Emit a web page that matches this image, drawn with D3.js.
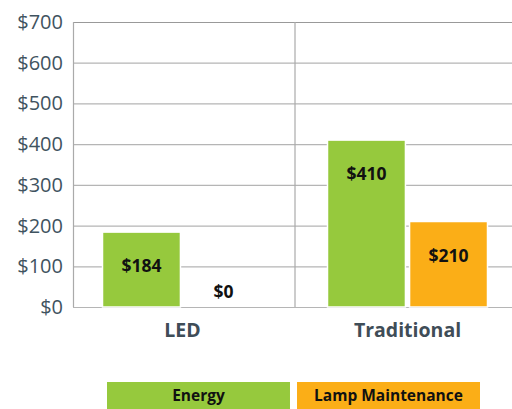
<!DOCTYPE html>
<html>
<head>
<meta charset="utf-8">
<script src="https://cdn.jsdelivr.net/npm/d3@7"></script>
<style>
  html, body { margin: 0; padding: 0; background: #fff; }
  svg { display: block; }
</style>
</head>
<body>
<script>
// chart data
const categories = ["LED", "Traditional"];
const seriesNames = ["Energy", "Lamp Maintenance"];
const energy = [184, 410];
const maintenance = [0, 210];
const yTicks = [0, 100, 200, 300, 400, 500, 600, 700];
const colors = ["#96c93d", "#fbae17"];

const width = 512, height = 409;
const plotLeft = 73, plotTop = 22, plotBottom = 307;

const svg = d3.select("body").append("svg")
  .attr("width", width)
  .attr("height", height);

const x = d3.scaleBand()
  .domain(categories)
  .range([70, 520]);

const xs = d3.scaleBand()
  .domain(seriesNames)
  .range([32.5, 192.5])
  .paddingInner(0.05);

const y = d3.scaleLinear()
  .domain([0, 700])
  .range([plotBottom, plotTop]);

// gridlines
svg.append("g")
  .selectAll("line")
  .data(yTicks)
  .join("line")
  .attr("x1", plotLeft)
  .attr("x2", width)
  .attr("y1", d => y(d) + 0.5)
  .attr("y2", d => y(d) + 0.5)
  .attr("stroke", d => d === 700 ? "#999" : "#b5b5b5")
  .attr("stroke-width", 1.2);

// left axis line + category divider
svg.append("line")
  .attr("x1", plotLeft + 0.5).attr("x2", plotLeft + 0.5)
  .attr("y1", y(700)).attr("y2", y(0))
  .attr("stroke", "#aaa").attr("stroke-width", 1.2);

svg.append("line")
  .attr("x1", x("Traditional")).attr("x2", x("Traditional"))
  .attr("y1", y(700)).attr("y2", y(0))
  .attr("stroke", "#aaa").attr("stroke-width", 1.2);

// y tick labels
svg.append("g")
  .selectAll("text")
  .data(yTicks)
  .join("text")
  .attr("x", plotLeft - 10)
  .attr("y", d => y(d) + 7)
  .attr("text-anchor", "end")
  .attr("font-family", "'Open Sans', sans-serif")
  .attr("font-size", 20)
  .attr("fill", "#3f5360")
  .text(d => "$" + d);

// bars
const rows = categories.map((c, i) => ({cat: c, vals: [energy[i], maintenance[i]]}));

const groups = svg.append("g")
  .selectAll("g")
  .data(rows)
  .join("g")
  .attr("transform", d => `translate(${x(d.cat)},0)`);

groups.selectAll("rect")
  .data(d => d.vals.map((v, j) => ({name: seriesNames[j], v: v, j: j})))
  .join("rect")
  .attr("x", d => xs(d.name))
  .attr("width", xs.bandwidth())
  .attr("y", d => y(d.v))
  .attr("height", d => y(0) - y(d.v))
  .attr("fill", d => colors[d.j])
  .attr("stroke", "#fff")
  .attr("stroke-width", d => d.v > 0 ? 1.5 : 0);

groups.selectAll("text.val")
  .data(d => d.vals.map((v, j) => ({name: seriesNames[j], v: v, j: j})))
  .join("text")
  .attr("class", "val")
  .attr("x", d => xs(d.name) + xs.bandwidth() / 2)
  .attr("y", d => d.v > 0 ? Math.min(y(d.v) + 40, (y(d.v) + y(0)) / 2 + 2) : y(0) - 9)
  .attr("text-anchor", "middle")
  .attr("font-family", "'Open Sans', sans-serif")
  .attr("font-weight", "bold")
  .attr("font-size", 17.5)
  .attr("fill", "#111")
  .text(d => "$" + d.v);

// category labels
svg.append("g")
  .selectAll("text")
  .data(categories)
  .join("text")
  .attr("x", d => x(d) + (xs(seriesNames[0]) + xs(seriesNames[1]) + xs.bandwidth()) / 2)
  .attr("y", y(0) + 30)
  .attr("text-anchor", "middle")
  .attr("font-family", "'Open Sans', sans-serif")
  .attr("font-weight", "bold")
  .attr("font-size", 19.5)
  .attr("fill", "#3f4d57")
  .text(d => d);

// legend
const lx = d3.scaleBand()
  .domain(seriesNames)
  .range([107, 480])
  .paddingInner(0.037);

const leg = svg.append("g")
  .selectAll("g")
  .data(seriesNames)
  .join("g");

leg.append("rect")
  .attr("x", d => lx(d))
  .attr("y", 382)
  .attr("width", lx.bandwidth())
  .attr("height", 27)
  .attr("fill", (d, i) => colors[i]);

leg.append("text")
  .attr("x", d => lx(d) + lx.bandwidth() / 2)
  .attr("y", 401)
  .attr("text-anchor", "middle")
  .attr("font-family", "'Open Sans', sans-serif")
  .attr("font-weight", "bold")
  .attr("font-size", 15.5)
  .attr("fill", "#111")
  .text(d => d);
</script>
</body>
</html>
